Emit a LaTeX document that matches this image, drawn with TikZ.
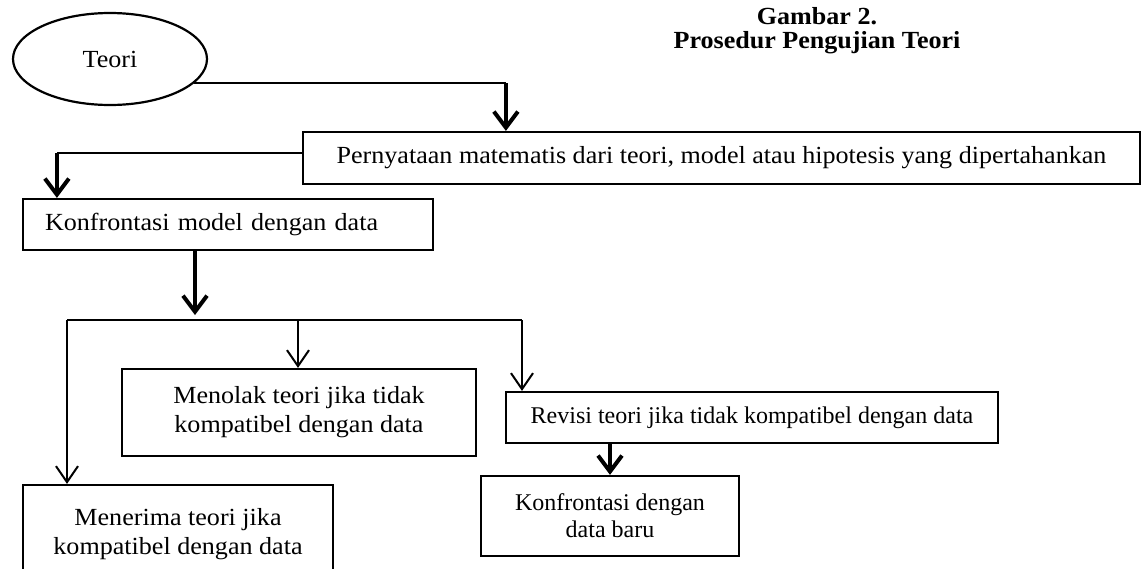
\documentclass[tikz,border=0pt]{standalone}
\usepackage{fontspec}
\setmainfont{Liberation Serif}[FakeStretch=1.06]
\newfontfamily\plainserif{Liberation Serif}
\usetikzlibrary{arrows.meta, shapes.geometric, positioning}

\begin{document}
\begin{tikzpicture}[
      x=0.5pt, y=-0.5pt,
      font=\fontsize{12.3pt}{14.5pt}\selectfont,
      line/.style       = {line width=1pt},
      thinarrow/.style  = {line width=1pt,
        -{Straight Barb[length=8pt,width=11pt]}},
      thickarrow/.style = {line width=2pt,
        -{Straight Barb[length=8pt,width=12pt]}},
      block/.style      = {rectangle, draw, line width=1.1pt, align=center,
        inner sep=0pt},
      oval/.style       = {ellipse, draw, line width=1.1pt, inner sep=0pt,
        minimum width=97pt, minimum height=46pt},
      timesblock/.style = {block,
        font=\plainserif\fontsize{12pt}{13.5pt}\selectfont}
    ]
    \useasboundingbox (0,0) rectangle (1141,568);

    % ---------------- title ----------------
    \node[font=\bfseries\fontsize{12.3pt}{12pt}\selectfont, align=center]
    (title) at (817,31) {Gambar 2.\\Prosedur Pengujian Teori};

    % ---------------- theory and statement ----------------
    \node[oval] (teori) at (110,59) {Teori};
    \node[block, minimum width=418.5pt, minimum height=26pt]
    (pernyataan) at (721.5,158)
    {Pernyataan matematis dari teori, model atau hipotesis yang dipertahankan};

    \node[block, align=left, inner xsep=11pt, text width=183pt,
    minimum height=25.5pt] (konfModel) at (228,224.5)
    {Konfrontasi model dengan data};

    % ---------------- three outcomes ----------------
    \node[block, minimum width=177pt, minimum height=43.5pt]
    (menolak) at (299,412.5) {Menolak teori jika tidak\\kompatibel dengan data};
    \node[timesblock, minimum width=246pt, minimum height=25.5pt]
    (revisi) at (752,417.5) {Revisi teori jika tidak kompatibel dengan data};
    \node[timesblock, minimum width=129pt, minimum height=40pt]
    (konfBaru) at (610,516) {Konfrontasi dengan\\data baru};
    % runs past the lower edge of the page
    \node[block, minimum width=155pt, minimum height=49.5pt]
    (menerima) at (178,534.5) {Menerima teori jika\\kompatibel dengan data};

    % bends and fork points
    \coordinate (dropA) at ([xshift=102pt]pernyataan.north west);
    \coordinate (bendA) at (dropA |- teori.-16);
    \coordinate (exitB) at ([yshift=2.5pt]pernyataan.west);
    \coordinate (dropB) at ([xshift=17.5pt]konfModel.north west);
    \coordinate (bendB) at (dropB |- exitB);

    \coordinate (fork)  at (195,320);
    \coordinate (forkL) at (67,320);
    \coordinate (forkM) at (298,320);
    \coordinate (forkR) at (522,320);

    % ---------------- arrows (main flow) -------------
    \draw[line] (teori.-16) -- (bendA);
    \draw[thickarrow] (bendA) -- (dropA);
    \draw[line] (exitB) -- (bendB);
    \draw[thickarrow] (bendB) -- (dropB);
    \draw[thickarrow] (konfModel.south -| fork) -- ([yshift=2.5pt]fork);

    % ---------------- arrows (branches) -------------
    \draw[line] (forkL) -- (forkR);
    \draw[thinarrow] (forkL) -- (forkL |- menerima.north);
    \draw[thinarrow] (forkM) -- (forkM |- menolak.north);
    \draw[thinarrow] (forkR) -- (forkR |- revisi.north);
    \draw[thickarrow] (revisi.south -| konfBaru) -- (konfBaru);

  \end{tikzpicture}
\end{document}
